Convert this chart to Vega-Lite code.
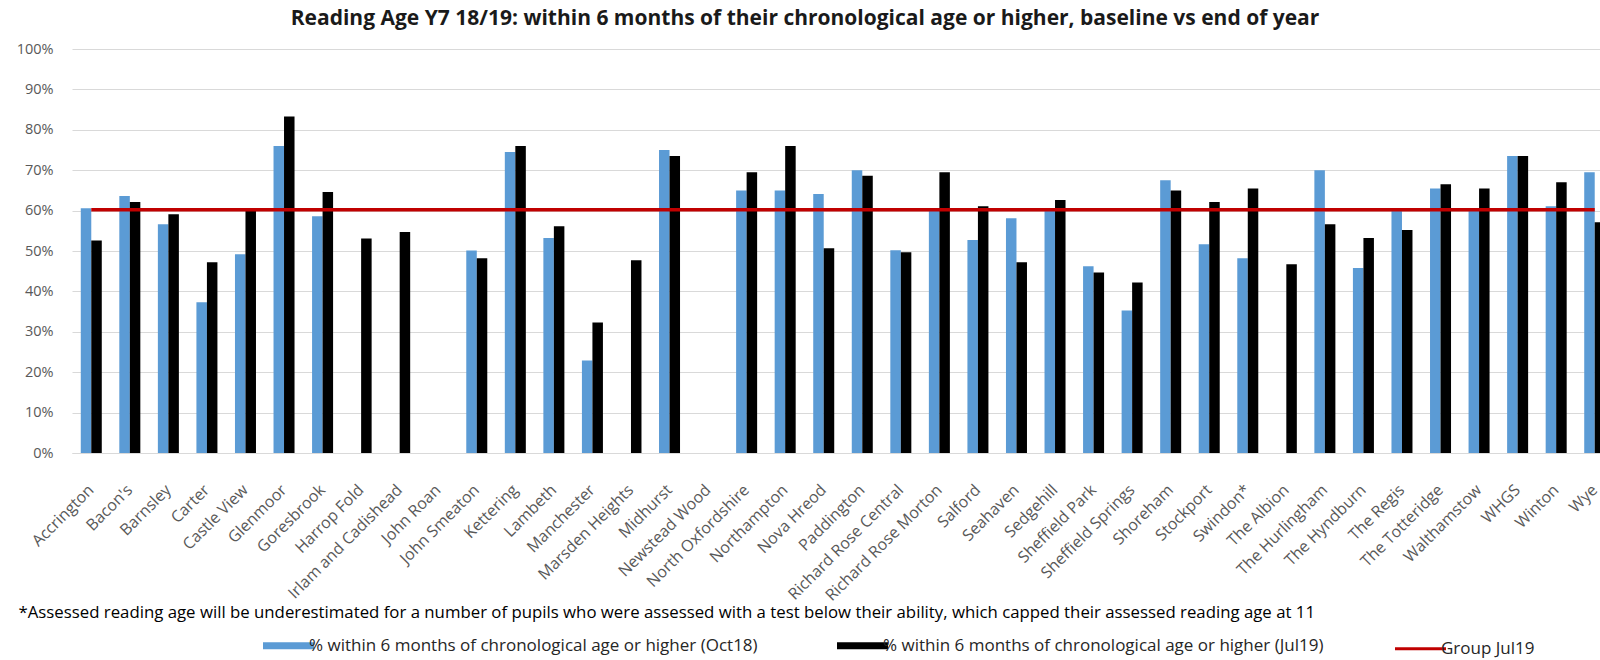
{
  "$schema": "https://vega.github.io/schema/vega-lite/v6.json",
  "width": 1542,
  "height": 404,
  "autosize": {"type": "none"},
  "padding": {"left": 72, "top": 49, "right": 0, "bottom": 207},
  "background": "white",
  "config": {"font": "Open Sans", "view": {"stroke": null}},
  "title": {
    "text": "Reading Age Y7 18/19: within 6 months of their chronological age or higher, baseline vs end of year",
    "fontSize": 21,
    "fontWeight": "bold",
    "color": "#1a1a1a",
    "anchor": "middle",
    "frame": "group",
    "offset": 1,
    "baseline": "alphabetic",
    "dx": -38,
    "dy": 6
  },
  "data": {
    "values": [
      {"school": "Accrington", "Oct18": 60.6, "Jul19": 52.6, "group": 60.2},
      {"school": "Bacon's", "Oct18": 63.6, "Jul19": 62.1, "group": 60.2},
      {"school": "Barnsley", "Oct18": 56.6, "Jul19": 59.1, "group": 60.2},
      {"school": "Carter", "Oct18": 37.3, "Jul19": 47.2, "group": 60.2},
      {"school": "Castle View", "Oct18": 49.2, "Jul19": 59.9, "group": 60.2},
      {"school": "Glenmoor", "Oct18": 76.0, "Jul19": 83.3, "group": 60.2},
      {"school": "Goresbrook", "Oct18": 58.6, "Jul19": 64.6, "group": 60.2},
      {"school": "Harrop Fold", "Oct18": null, "Jul19": 53.1, "group": 60.2},
      {"school": "Irlam and Cadishead", "Oct18": null, "Jul19": 54.7, "group": 60.2},
      {"school": "John Roan", "Oct18": null, "Jul19": null, "group": 60.2},
      {"school": "John Smeaton", "Oct18": 50.1, "Jul19": 48.2, "group": 60.2},
      {"school": "Kettering", "Oct18": 74.5, "Jul19": 76.0, "group": 60.2},
      {"school": "Lambeth", "Oct18": 53.2, "Jul19": 56.1, "group": 60.2},
      {"school": "Manchester", "Oct18": 22.9, "Jul19": 32.3, "group": 60.2},
      {"school": "Marsden Heights", "Oct18": null, "Jul19": 47.7, "group": 60.2},
      {"school": "Midhurst", "Oct18": 75.0, "Jul19": 73.5, "group": 60.2},
      {"school": "Newstead Wood", "Oct18": null, "Jul19": null, "group": 60.2},
      {"school": "North Oxfordshire", "Oct18": 65.0, "Jul19": 69.5, "group": 60.2},
      {"school": "Northampton", "Oct18": 65.0, "Jul19": 76.0, "group": 60.2},
      {"school": "Nova Hreod", "Oct18": 64.1, "Jul19": 50.7, "group": 60.2},
      {"school": "Paddington", "Oct18": 70.0, "Jul19": 68.6, "group": 60.2},
      {"school": "Richard Rose Central", "Oct18": 50.2, "Jul19": 49.7, "group": 60.2},
      {"school": "Richard Rose Morton", "Oct18": 60.1, "Jul19": 69.5, "group": 60.2},
      {"school": "Salford", "Oct18": 52.7, "Jul19": 61.1, "group": 60.2},
      {"school": "Seahaven", "Oct18": 58.1, "Jul19": 47.2, "group": 60.2},
      {"school": "Sedgehill", "Oct18": 60.1, "Jul19": 62.6, "group": 60.2},
      {"school": "Sheffield Park", "Oct18": 46.2, "Jul19": 44.7, "group": 60.2},
      {"school": "Sheffield Springs", "Oct18": 35.3, "Jul19": 42.2, "group": 60.2},
      {"school": "Shoreham", "Oct18": 67.5, "Jul19": 65.0, "group": 60.2},
      {"school": "Stockport", "Oct18": 51.7, "Jul19": 62.1, "group": 60.2},
      {"school": "Swindon*", "Oct18": 48.2, "Jul19": 65.5, "group": 60.2},
      {"school": "The Albion", "Oct18": null, "Jul19": 46.7, "group": 60.2},
      {"school": "The Hurlingham", "Oct18": 70.0, "Jul19": 56.6, "group": 60.2},
      {"school": "The Hyndburn", "Oct18": 45.8, "Jul19": 53.2, "group": 60.2},
      {"school": "The Regis", "Oct18": 60.1, "Jul19": 55.2, "group": 60.2},
      {"school": "The Totteridge", "Oct18": 65.5, "Jul19": 66.5, "group": 60.2},
      {"school": "Walthamstow", "Oct18": 60.1, "Jul19": 65.5, "group": 60.2},
      {"school": "WHGS", "Oct18": 73.5, "Jul19": 73.5, "group": 60.2},
      {"school": "Winton", "Oct18": 61.1, "Jul19": 67.0, "group": 60.2},
      {"school": "Wye", "Oct18": 69.5, "Jul19": 57.1, "group": 60.2}
    ]
  },
  "encoding": {
    "x": {
      "field": "school",
      "type": "nominal",
      "sort": null,
      "scale": {
        "domain": ["Accrington", "Bacon's", "Barnsley", "Carter", "Castle View", "Glenmoor", "Goresbrook", "Harrop Fold", "Irlam and Cadishead", "John Roan", "John Smeaton", "Kettering", "Lambeth", "Manchester", "Marsden Heights", "Midhurst", "Newstead Wood", "North Oxfordshire", "Northampton", "Nova Hreod", "Paddington", "Richard Rose Central", "Richard Rose Morton", "Salford", "Seahaven", "Sedgehill", "Sheffield Park", "Sheffield Springs", "Shoreham", "Stockport", "Swindon*", "The Albion", "The Hurlingham", "The Hyndburn", "The Regis", "The Totteridge", "Walthamstow", "WHGS", "Winton", "Wye"],
        "paddingInner": 0.455,
        "paddingOuter": 0.2275
      },
      "axis": {
        "labelAngle": -45,
        "labelAlign": "right",
        "labelBaseline": "middle",
        "labelPadding": 34,
        "labelFontSize": 16,
        "labelColor": "#595959",
        "labelLimit": 300,
        "ticks": false,
        "grid": false,
        "domainColor": "#D9D9D9",
        "title": "*Assessed reading age will be underestimated for a number of pupils who were assessed with a test below their ability, which capped their assessed reading age at 11",
        "titleX": -54,
        "titleY": 164,
        "titleAlign": "left",
        "titleAnchor": "start",
        "titleBaseline": "alphabetic",
        "titleFontSize": 16.8,
        "titleFontWeight": "normal",
        "titleColor": "#000000"
      }
    }
  },
  "layer": [
    {
      "transform": [{"fold": ["Oct18", "Jul19"], "as": ["series", "pct"]}],
      "mark": {"type": "bar"},
      "encoding": {
        "xOffset": {
          "field": "series",
          "type": "nominal",
          "sort": ["Oct18", "Jul19"],
          "scale": {"domain": ["Oct18", "Jul19"], "paddingInner": 0, "paddingOuter": 0}
        },
        "y": {
          "field": "pct",
          "type": "quantitative",
          "scale": {"domain": [0, 100]},
          "axis": {
            "values": [0, 10, 20, 30, 40, 50, 60, 70, 80, 90, 100],
            "labelExpr": "datum.value + '%'",
            "grid": true,
            "gridColor": "#D9D9D9",
            "domain": false,
            "ticks": false,
            "labelPadding": 19,
            "labelFontSize": 14.5,
            "labelColor": "#595959",
            "title": null
          }
        },
        "color": {
          "field": "series",
          "type": "nominal",
          "scale": {
            "domain": ["Oct18", "Jul19", "Group Jul19"],
            "range": ["#5B9BD5", "#000000", "#C00000"]
          },
          "legend": {
            "orient": "none",
            "legendX": 208,
            "legendY": 588,
            "padding": 0,
            "offset": 0,
            "direction": "horizontal",
            "title": null,
            "symbolType": "stroke",
            "symbolSize": 2600,
            "symbolStrokeWidth": 7,
            "labelFontSize": 17,
            "labelColor": "#262626",
            "labelOffset": 12,
            "columnPadding": 65,
            "labelLimit": 600,
            "labelExpr": "datum.value == 'Oct18' ? '% within 6 months of chronological age or higher (Oct18)' : datum.value == 'Jul19' ? '% within 6 months of chronological age or higher (Jul19)' : 'Group Jul19'",
            "encode": {
              "symbols": {
                "update": {
                  "stroke": {"scale": "color", "field": "value"},
                  "fill": {"value": "transparent"},
                  "strokeWidth": {"signal": "datum.value == 'Group Jul19' ? 3 : 7"}
                }
              }
            }
          }
        }
      }
    },
    {
      "mark": {"type": "line", "strokeWidth": 3.5},
      "encoding": {
        "y": {"field": "group", "type": "quantitative"},
        "color": {"datum": "Group Jul19"}
      }
    }
  ]
}
